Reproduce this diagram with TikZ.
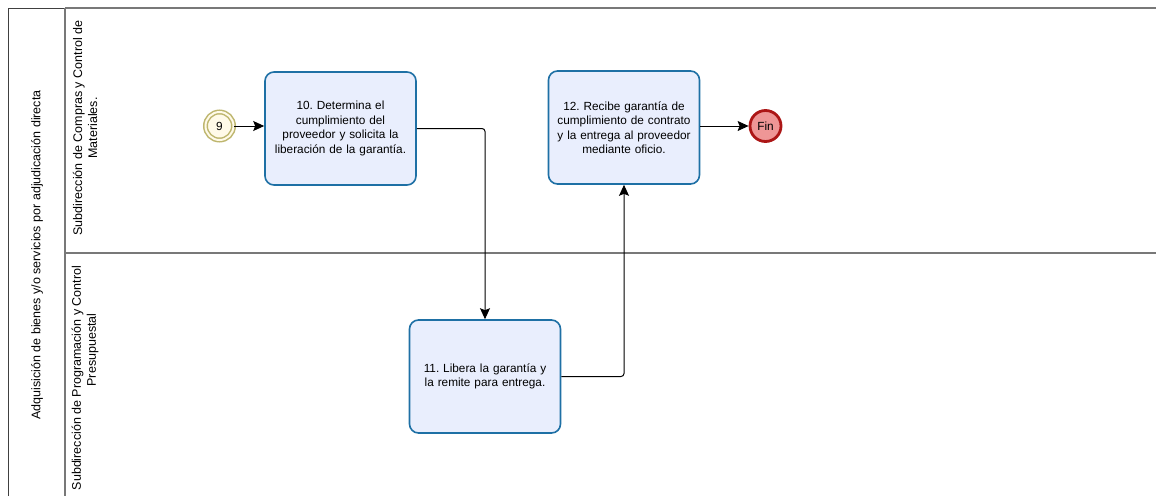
\documentclass[tikz,border=0pt]{standalone}
\usepackage{fontspec}
\setmainfont{Liberation Sans}
\usetikzlibrary{arrows.meta,calc}
\definecolor{taskfill}{RGB}{233,238,253}
\definecolor{taskdraw}{RGB}{30,112,165}
\definecolor{startfill}{RGB}{255,250,232}
\definecolor{startdraw}{RGB}{190,182,110}
\definecolor{endfill}{RGB}{238,150,150}
\definecolor{enddraw}{RGB}{172,22,22}
\definecolor{laneline}{RGB}{120,120,120}
\tikzset{
  task/.style={draw=taskdraw, fill=taskfill, line width=1.6pt, rounded corners=9pt,
    minimum width=151pt, minimum height=113pt, align=center, text width=146pt,
    font=\fontsize{11.8}{14.5}\selectfont, inner sep=0pt},
  startev/.style={circle, draw=startdraw, fill=startfill, line width=1.5pt, double=startfill, double distance=2pt,
    minimum size=28pt, inner sep=0pt, font=\fontsize{11.8}{13}\selectfont},
  endev/.style={circle, draw=enddraw, fill=endfill, line width=2.8pt, minimum size=31pt, inner sep=0pt,
    font=\fontsize{11.8}{13}\selectfont},
  flow/.style={draw=black, line width=1pt, -{Stealth[length=11pt,width=10pt,inset=2pt]}, rounded corners=3pt},
  lanetxt/.style={rotate=90, align=center, font=\fontsize{12.5}{15}\selectfont, inner sep=0pt},
  poolline/.style={draw=black!75, line width=0.9pt},
  lanesep/.style={draw=laneline, line width=1.4pt},
}
\frenchspacing
\begin{document}
\begin{tikzpicture}[x=1pt,y=-1pt]
\useasboundingbox (0,0) rectangle (1156,496);
\fill[white] (0,0) rectangle (1156,496);
% pool
\draw[poolline] (8,496) -- (8,8) -- (65,8);
\draw[lanesep] (65,8) -- (1156,8);
\draw[lanesep] (65,8) -- (65,496);
\draw[lanesep] (65,253) -- (1156,253);
% labels
\node[lanetxt] (pool) at (37,255) {Adquisición de bienes y/o servicios por adjudicación directa};
\node[lanetxt] (lane1) at (85,128) {Subdirección de Compras y Control de\\Materiales.};
\node[lanetxt] (lane2) at (85,378) {Subdirección de Programación y Control\\\hspace{4.5em}Presupuestal};
% nodes
\node[startev] (s9) at (219.5,126) {9};
\node[task] (t10) at (340.5,128.5) {10. Determina el\\cumplimiento del\\proveedor y solicita la\\liberación de la garantía.};
\node[task] (t11) at (485,376.5) {11. Libera la garantía y\\la remite para entrega.};
\node[task] (t12) at (624,127.5) {12. Recibe garantía de\\cumplimiento de contrato\\y la entrega al proveedor\\mediante oficio.};
\node[endev] (fin) at (765.5,126) {Fin};
% flows
\draw[flow] (s9) -- (s9 -| t10.west);
\draw[flow] (t10.east) -| (t11.north);
\draw[flow] (t11.east) -| (t12.south);
\draw[flow] (t12.east |- fin) -- (fin);
\end{tikzpicture}
\end{document}
